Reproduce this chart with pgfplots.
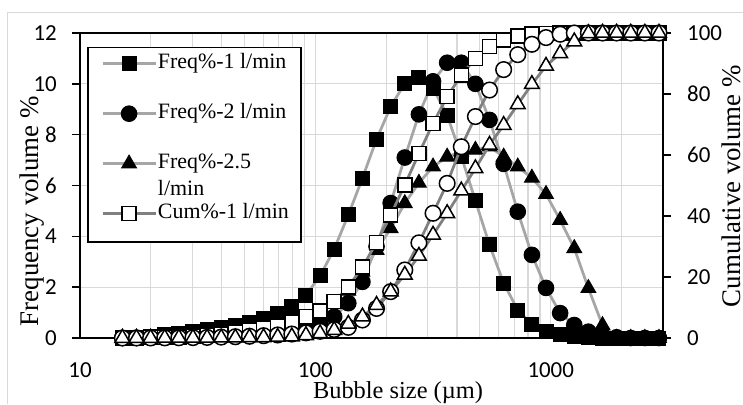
\documentclass[border=0pt]{standalone}
\usepackage{fontspec}
\setmainfont{Liberation Serif}
\newfontfamily\tickfont{Carlito}
\usepackage{pgfplots}
\usepackage{pgfplotstable}
\pgfplotsset{compat=1.18}
\definecolor{freqline}{HTML}{A6A6A6}
\definecolor{cumline}{HTML}{808080}
\definecolor{gridc}{HTML}{D9D9D9}

\pgfplotstableread{
x f1 f2 f25
15.136 0.01 0.00 0.00
17.378 0.03 0.01 0.00
19.953 0.07 0.02 0.01
22.909 0.12 0.03 0.01
26.303 0.18 0.04 0.02
30.200 0.25 0.05 0.02
34.674 0.32 0.07 0.03
39.811 0.40 0.09 0.03
45.709 0.50 0.12 0.04
52.481 0.62 0.15 0.05
60.256 0.75 0.19 0.06
69.183 0.98 0.24 0.09
79.433 1.23 0.31 0.14
91.201 1.69 0.40 0.25
104.713 2.44 0.55 0.45
120.226 3.50 0.84 0.95
138.038 4.84 1.37 1.85
158.489 6.29 2.21 2.60
181.970 7.82 3.60 3.46
208.930 9.10 5.31 4.31
239.883 10.02 7.10 5.30
275.423 10.26 8.80 6.10
316.228 9.83 10.10 6.74
363.078 8.77 10.83 7.13
416.869 7.15 10.83 7.33
478.630 5.40 10.00 7.40
549.541 3.66 8.58 7.53
630.957 2.16 6.85 7.13
724.436 1.10 4.97 6.74
831.764 0.55 3.27 6.30
954.993 0.25 1.97 5.66
1096.478 0.12 0.98 4.64
1258.925 0.05 0.51 3.53
1445.440 0.02 0.25 1.96
1659.587 0.00 0.10 0.50
1905.461 0.00 0.03 0.00
2187.762 0.00 0.00 0.00
2511.886 0.00 0.00 0.00
2884.032 0.00 0.00 0.00
}\freqdata

\pgfplotstableread{
x c1 c2 c25
15.136 0.0 0.0 0.0
17.378 0.05 0.0 0.0
19.953 0.1 0.02 0.0
22.909 0.2 0.05 0.01
26.303 0.4 0.08 0.02
30.200 0.6 0.13 0.04
34.674 0.9 0.2 0.06
39.811 1.3 0.3 0.09
45.709 1.8 0.42 0.13
52.481 2.4 0.57 0.18
60.256 3.1 0.76 0.24
69.183 4.0 1.0 0.33
79.433 5.2 1.3 0.47
91.201 7.0 1.7 0.9
104.713 8.9 2.2 1.5
120.226 11.9 2.8 2.6
138.038 16.8 3.5 4.6
158.489 23.2 5.9 7.0
181.970 31.3 9.7 10.8
208.930 40.3 15.2 15.2
239.883 50.2 22.3 20.7
275.423 60.5 31.2 26.9
316.228 70.4 40.9 33.8
363.078 79.1 50.7 40.9
416.869 86.2 62.7 48.3
478.630 91.7 72.6 55.6
549.541 95.5 81.3 63.3
630.957 97.7 88.0 69.8
724.436 99.0 92.9 76.6
831.764 99.6 96.3 83.2
954.993 99.9 98.5 89.2
1096.478 100 99.6 93.3
1258.925 100 100 97.2
1445.440 100 100 99.9
1659.587 100 100 100
1905.461 100 100 100
2187.762 100 100 100
2511.886 100 100 100
2884.032 100 100 100
}\cumdata

\pgfplotsset{
  myfreqst/.style={color=freqline, line width=2.75bp,
    mark options={draw=black, fill=black, line width=1bp, solid}},
  mycumst/.style={color=cumline, line width=2.75bp,
    mark options={draw=black, fill=white, line width=1.5bp, solid}},
}

\begin{document}
\begin{tikzpicture}[x=1bp,y=1bp]
\useasboundingbox (0,0) rectangle (743,404);
\draw[gridc, line width=1bp] (7,0) -- (7,391) -- (743,391);
\begin{axis}[
  at={(80bp,66bp)}, anchor=south west,
  width=583bp, height=305bp, scale only axis,
  xmode=log, xmin=10, xmax=3000, clip=false,
  tick label style={font=\tickfont\fontsize{23}{23}\selectfont},
  /pgf/number format/assume math mode=true,
  label style={font=\fontsize{27}{30}\selectfont},
  axis line style={black, line width=1.5bp},
  tick align=outside, major tick length=8bp, minor tick length=0bp,
  legend image code/.code={%
    \path (-2bp,0bp);
    \draw[mark repeat=2, mark phase=2, #1] plot coordinates {(0bp,0bp) (26.5bp,0bp) (53bp,0bp)};},
  ymin=0, ymax=12,
  xtick={10,100,1000}, xticklabels={10,100,1000},
  minor xtick={20,30,40,50,60,70,80,90,200,300,400,500,600,700,800,900,2000,3000},
  ytick={0,2,...,12},
  xmajorgrids, xminorgrids, ymajorgrids,
  grid style={gridc, line width=1.2bp},
  minor grid style={gridc, line width=1.2bp},
  ytick pos=left, xtick pos=bottom,
  xtick style={draw=none},
  ytick style={black, line width=1.5bp},
  xticklabel style={inner sep=0pt, anchor=north, yshift=-16bp},
  yticklabel style={inner sep=0pt, anchor=east, xshift=-15bp},
  xlabel={Bubble size (\textmu m)},
  xlabel style={font=\fontsize{24.5}{28}\selectfont, at={(axis description cs:0.5455,-0.1967)}, anchor=base},
  ylabel={Frequency volume \%},
  ylabel style={at={(axis description cs:-0.07204,0.416)}, anchor=base},
  legend style={name=leg, at={(axis description cs:0.0137,0.9525)}, anchor=north west,
    draw=none, fill=white, inner xsep=11bp, inner ysep=4bp,
    font=\fontsize{22}{24}\selectfont, row sep=26bp,
    nodes={inner xsep=1bp, inner ysep=1bp, text height=16bp, text depth=6bp}},
  legend cell align=left,
]
\addplot[myfreqst, mark=square*, mark size=7bp] table[x=x, y=f1] {\freqdata};
\addlegendentry{Freq\%-1 l/min}
\addplot[myfreqst, mark=*, mark size=7.8bp] table[x=x, y=f2] {\freqdata};
\addlegendentry{Freq\%-2 l/min}
\addplot[myfreqst, mark=triangle*, mark size=8.5bp] table[x=x, y=f25] {\freqdata};
\addlegendentry{\raisebox{0pt}[\height][0pt]{\begin{tabular}[t]{@{}l@{}}Freq\%-2.5\\[3bp]l/min\end{tabular}}}
\addlegendimage{mycumst, mark=square*, mark size=7bp}
\addlegendentry{Cum\%-1 l/min}
\end{axis}
\begin{axis}[
  at={(80bp,66bp)}, anchor=south west,
  width=583bp, height=305bp, scale only axis,
  xmode=log, xmin=10, xmax=3000, clip=false,
  tick label style={font=\tickfont\fontsize{23}{23}\selectfont},
  /pgf/number format/assume math mode=true,
  label style={font=\fontsize{27}{30}\selectfont},
  axis line style={black, line width=1.5bp},
  tick align=outside, major tick length=8bp, minor tick length=0bp,
  ymin=0, ymax=100,
  axis x line=none, axis y line*=right,
  ytick={0,20,...,100},
  ytick style={black, line width=1.5bp},
  yticklabel style={inner sep=0pt, anchor=west, xshift=16bp},
  ylabel={Cumulative volume \%},
  ylabel style={at={(axis description cs:1.1321,0.498)}, anchor=base},
]
\addplot[mycumst, mark=square*, mark size=7bp] table[x=x, y=c1] {\cumdata};
\addplot[mycumst, mark=*, mark size=7.8bp] table[x=x, y=c2] {\cumdata};
\addplot[mycumst, mark=triangle*, mark size=8.5bp] table[x=x, y=c25] {\cumdata};
\end{axis}
\fill[white] (leg.south west) rectangle ([yshift=-12bp]leg.south east);
\draw[black, line width=1.5bp] (leg.north west) rectangle ([yshift=-12bp]leg.south east);
\end{tikzpicture}
\end{document}
